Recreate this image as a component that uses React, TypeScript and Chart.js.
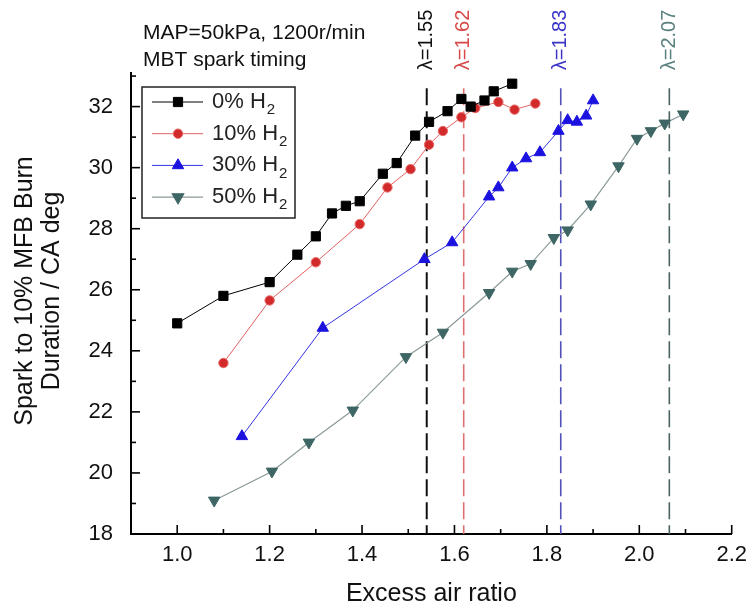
import React, { useEffect, useRef } from "react";
import { Chart, registerables } from "chart.js";
import { drawPoint } from "chart.js/helpers";

Chart.register(...registerables);

// ---- data ----
const h2x0 = [1.0, 1.1, 1.2, 1.26, 1.3, 1.335, 1.365, 1.395, 1.445, 1.475, 1.515, 1.545, 1.585, 1.615, 1.635, 1.665, 1.685, 1.725];
const h2y0 = [24.9, 25.8, 26.25, 27.15, 27.75, 28.5, 28.75, 28.9, 29.8, 30.15, 31.05, 31.5, 31.85, 32.25, 32.0, 32.2, 32.5, 32.75];

const h2x10 = [1.1, 1.2, 1.3, 1.395, 1.455, 1.505, 1.545, 1.575, 1.615, 1.645, 1.695, 1.73, 1.775];
const h2y10 = [23.6, 25.65, 26.9, 28.15, 29.35, 29.95, 30.75, 31.2, 31.65, 31.95, 32.15, 31.9, 32.1];

const h2x30 = [1.14, 1.315, 1.535, 1.595, 1.675, 1.695, 1.725, 1.755, 1.785, 1.825, 1.845, 1.865, 1.885, 1.9];
const h2y30 = [21.2, 24.75, 27.0, 27.55, 29.05, 29.35, 30.0, 30.3, 30.5, 31.2, 31.55, 31.5, 31.7, 32.2];

const h2x50 = [1.08, 1.205, 1.285, 1.38, 1.495, 1.575, 1.675, 1.725, 1.765, 1.815, 1.845, 1.895, 1.955, 1.995, 2.025, 2.055, 2.095];
const h2y50 = [19.1, 20.05, 21.0, 22.05, 23.8, 24.6, 25.9, 26.6, 26.85, 27.7, 27.95, 28.8, 30.05, 30.95, 31.2, 31.45, 31.75];

const seriesNames = ["0% H", "10% H", "30% H", "50% H"];
const seriesSub = ["2", "2", "2", "2"];

const lambdaPositions = [1.54, 1.62, 1.83, 2.065];
const lambdaLabels = ["λ=1.55", "λ=1.62", "λ=1.83", "λ=2.07"];
const lambdaLineTop = 32.6;

const xMajorTicks = [1.0, 1.2, 1.4, 1.6, 1.8, 2.0, 2.2];
const xMinorTicks = [1.1, 1.3, 1.5, 1.7, 1.9, 2.1];
const yMajorTicks = [18, 20, 22, 24, 26, 28, 30, 32];
const yMinorTicks = [19, 21, 23, 25, 27, 29, 31, 33];

const noteLines = ["MAP=50kPa, 1200r/min", "MBT spark timing"];
const xTitle = "Excess air ratio";
const yTitleLines = ["Spark to 10% MFB Burn", "Duration / CA deg"];

// ---- styles ----
const FONT = "'Liberation Sans', Arial, sans-serif";
const styles = [
  { style: "rect", radius: 6.5, rotation: 0, fill: "#000000", border: "#000000", line: "#000000", lineWidth: 1 },
  { style: "circle", radius: 4.7, rotation: 0, fill: "#d22a2a", border: "#e86a6a", line: "#e26060", lineWidth: 1 },
  { style: "triangle", radius: 6.6, rotation: 0, fill: "#1c12e0", border: "#1c12e0", line: "#3434e0", lineWidth: 1 },
  { style: "triangle", radius: 6.6, rotation: 180, fill: "#3d6664", border: "#3d6664", line: "#8c9a9a", lineWidth: 1.2 },
];
const lambdaLineColors = ["#111111", "#e07070", "#5050b8", "#4a6262"];
const lambdaTextColors = ["#111111", "#d84848", "#3a34c8", "#5a8080"];

const toPts = (xs: number[], ys: number[]) => xs.map((x, i) => ({ x, y: ys[i] }));

const decorPlugin = {
  id: "decor",
  beforeDatasetsDraw(chart: any) {
    const { ctx, chartArea, scales } = chart;
    const xs = scales.x;
    const ys = scales.y;
    ctx.save();
    lambdaPositions.forEach((v, i) => {
      const px = xs.getPixelForValue(v);
      ctx.beginPath();
      ctx.setLineDash([17, 6]);
      ctx.lineWidth = i === 0 ? 2 : 1.6;
      ctx.strokeStyle = lambdaLineColors[i];
      ctx.moveTo(px, ys.getPixelForValue(lambdaLineTop));
      ctx.lineTo(px, chartArea.bottom);
      ctx.stroke();
    });
    ctx.setLineDash([]);
    ctx.restore();
  },
  afterDraw(chart: any) {
    const { ctx, chartArea, scales } = chart;
    const xs = scales.x;
    const ys = scales.y;
    ctx.save();
    // inward ticks
    ctx.strokeStyle = "#000";
    ctx.lineWidth = 1.6;
    const xt = (v: number, len: number) => {
      const px = xs.getPixelForValue(v);
      ctx.beginPath();
      ctx.moveTo(px, chartArea.bottom);
      ctx.lineTo(px, chartArea.bottom - len);
      ctx.stroke();
    };
    const yt = (v: number, len: number) => {
      const py = ys.getPixelForValue(v);
      ctx.beginPath();
      ctx.moveTo(chartArea.left, py);
      ctx.lineTo(chartArea.left + len, py);
      ctx.stroke();
    };
    xMajorTicks.forEach((v) => xt(v, 9));
    xMinorTicks.forEach((v) => xt(v, 5));
    yMajorTicks.forEach((v) => yt(v, 9));
    yMinorTicks.forEach((v) => yt(v, 5));

    // y title
    ctx.fillStyle = "#111";
    ctx.font = `25px ${FONT}`;
    ctx.textAlign = "center";
    ctx.textBaseline = "middle";
    ctx.save();
    ctx.translate(25, 291);
    ctx.rotate(-Math.PI / 2);
    ctx.fillText(yTitleLines[0], 0, 0);
    ctx.fillText(yTitleLines[1], 0, 27);
    ctx.restore();

    // lambda labels
    ctx.font = `20px ${FONT}`;
    ctx.textAlign = "left";
    ctx.textBaseline = "middle";
    lambdaPositions.forEach((v, i) => {
      const px = xs.getPixelForValue(v);
      const py = ys.getPixelForValue(lambdaLineTop) - 18;
      ctx.save();
      ctx.translate(px, py);
      ctx.rotate(-Math.PI / 2);
      ctx.fillStyle = lambdaTextColors[i];
      ctx.fillText(lambdaLabels[i], 0, 0);
      ctx.restore();
    });

    // notes
    ctx.fillStyle = "#111";
    ctx.font = `21px ${FONT}`;
    ctx.textAlign = "left";
    ctx.textBaseline = "middle";
    ctx.fillText(noteLines[0], chartArea.left + 12, 33);
    ctx.fillText(noteLines[1], chartArea.left + 12, 60);

    // legend
    const bx = chartArea.left + 11;
    const by = 87;
    const bw = 153;
    const bh = 131;
    ctx.lineWidth = 1.5;
    ctx.strokeStyle = "#222";
    ctx.strokeRect(bx, by, bw, bh);
    seriesNames.forEach((name, i) => {
      const st = styles[i];
      const cy = by + 15 + i * 31.7;
      ctx.beginPath();
      ctx.strokeStyle = st.line;
      ctx.lineWidth = st.lineWidth;
      ctx.moveTo(bx + 10, cy);
      ctx.lineTo(bx + 61, cy);
      ctx.stroke();
      ctx.fillStyle = st.fill;
      ctx.strokeStyle = st.border;
      drawPoint(ctx, { pointStyle: st.style, radius: st.radius, rotation: st.rotation, borderWidth: 1 } as any, bx + 36, cy);
      ctx.fillStyle = "#222";
      ctx.font = `22px ${FONT}`;
      ctx.textBaseline = "middle";
      ctx.fillText(name, bx + 70, cy);
      const w = ctx.measureText(name).width;
      ctx.font = `15px ${FONT}`;
      ctx.fillText(seriesSub[i], bx + 70 + w + 1, cy + 8);
    });
    ctx.restore();
  },
};

export default function App() {
  const ref = useRef<HTMLCanvasElement | null>(null);
  useEffect(() => {
    if (!ref.current) return;
    const all = [toPts(h2x0, h2y0), toPts(h2x10, h2y10), toPts(h2x30, h2y30), toPts(h2x50, h2y50)];
    const chart = new Chart(ref.current, {
      type: "scatter",
      data: {
        datasets: all.map((d, i) => ({
          label: seriesNames[i] + seriesSub[i],
          data: d,
          showLine: true,
          borderColor: styles[i].line,
          borderWidth: styles[i].lineWidth,
          pointStyle: styles[i].style as any,
          pointRadius: styles[i].radius,
          pointRotation: styles[i].rotation,
          pointBackgroundColor: styles[i].fill,
          pointBorderColor: styles[i].border,
          pointBorderWidth: 1,
          tension: 0,
        })),
      },
      options: {
        animation: false,
        responsive: false,
        layout: { padding: { top: 73, right: 19, left: 0, bottom: 0 } },
        plugins: { legend: { display: false }, tooltip: { enabled: false } },
        scales: {
          x: {
            type: "linear",
            min: 0.9,
            max: 2.2,
            grid: { display: false, drawTicks: false },
            border: { display: true, color: "#000", width: 2 },
            afterBuildTicks: (s: any) => {
              s.ticks = xMajorTicks.map((v) => ({ value: v }));
            },
            afterFit: (s: any) => {
              s.height = 75;
            },
            ticks: {
              color: "#111",
              font: { family: FONT, size: 22 },
              padding: 8,
              maxRotation: 0,
              callback: (v: any) => Number(v).toFixed(1),
            },
            title: {
              display: true,
              text: xTitle,
              color: "#111",
              font: { family: FONT, size: 25 },
              padding: { top: 0, bottom: 0 },
            },
          },
          y: {
            type: "linear",
            min: 18,
            max: 33.1,
            grid: { display: false, drawTicks: false },
            border: { display: true, color: "#000", width: 2 },
            afterBuildTicks: (s: any) => {
              s.ticks = yMajorTicks.map((v) => ({ value: v }));
            },
            afterFit: (s: any) => {
              s.width = 131;
            },
            ticks: {
              color: "#111",
              font: { family: FONT, size: 22 },
              padding: 18,
              callback: (v: any) => String(v),
            },
            title: { display: false },
          },
        },
      },
      plugins: [decorPlugin],
    });
    return () => chart.destroy();
  }, []);
  return (
    <div style={{ position: "absolute", left: 0, top: 0, width: 755, height: 609, background: "#fff" }}>
      <canvas ref={ref} width={755} height={609} style={{ display: "block" }} />
    </div>
  );
}
